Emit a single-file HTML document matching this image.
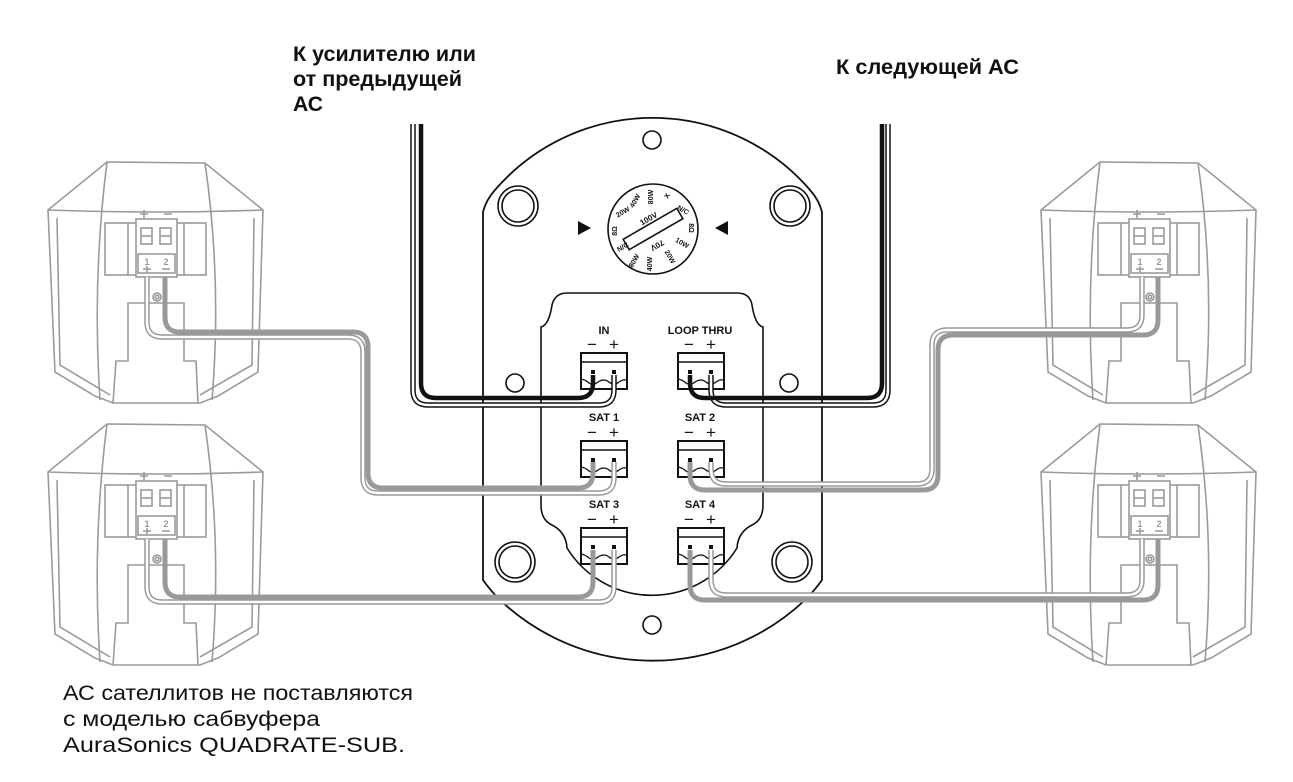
<!DOCTYPE html>
<html><head><meta charset="utf-8"><style>
html,body{margin:0;padding:0;background:#fff;}
svg{display:block;}
.sp{fill:none;stroke:#9a9a9a;stroke-width:1.6;}
.t{font-family:"Liberation Sans",sans-serif;fill:#111;}
.lbl{font-family:"Liberation Sans",sans-serif;font-weight:bold;font-size:11px;fill:#111;}
.dl{font-family:"Liberation Sans",sans-serif;font-weight:bold;font-size:7px;fill:#111;}
</style></head><body>
<svg width="1293" height="782" viewBox="0 0 1293 782" xmlns="http://www.w3.org/2000/svg">
<defs>
<g id="spk" class="sp">
  <path d="M107,162 L205,163 L263,210 L258,372 L218,396 L200,403 L113,403 L95,396 L55,372 L48,210 Z"/>
  <path d="M48,210 Q155,214 263,210"/>
  <path d="M57,218 L60,365 L110,395 M254,218 L252,365 L200,395"/>
  <path d="M107,162 Q92,280 100,400 M205,163 Q222,280 212,400"/>
  <rect x="105" y="223" width="101" height="52"/>
  <line x1="128" y1="223" x2="128" y2="275"/><line x1="184" y1="223" x2="184" y2="275"/>
  <rect x="136" y="219" width="41" height="58" fill="#fff"/>
  <rect x="141" y="228" width="11" height="16"/><line x1="141" y1="236" x2="152" y2="236"/>
  <rect x="160" y="228" width="11" height="16"/><line x1="160" y1="236" x2="171" y2="236"/>
  <rect x="138" y="254" width="37" height="19"/>
  <path d="M113,403 L116,361 L128,361 L128,303 L184,303 L184,361 L196,361 L198,403"/>
  <circle cx="157" cy="297" r="4"/><circle cx="157" cy="297" r="1.8"/>
  <path d="M140,214 L148,214 M144,210 L144,218 M164,214 L172,214"/>
</g>
<g id="spt">
  <text x="147" y="265" font-family="Liberation Sans,sans-serif" font-weight="bold" font-size="9" fill="#999" text-anchor="middle">1</text>
  <text x="166" y="265" font-family="Liberation Sans,sans-serif" font-weight="bold" font-size="9" fill="#999" text-anchor="middle">2</text>
  <path d="M143,269 L151,269 M147,266 L147,272 M162,269 L170,269" stroke="#999" stroke-width="1.5"/>
</g>
<g id="term">
  <rect x="0" y="0" width="46" height="36" fill="#fff" stroke="#111" stroke-width="2"/>
  <line x1="0" y1="9" x2="46" y2="9" stroke="#111" stroke-width="1.5"/>
  <rect x="10" y="17" width="4" height="4" fill="#111"/><rect x="31" y="17" width="4" height="4" fill="#111"/>
  <path d="M0,26 Q5,27 8,30 Q12,33 17,29 Q23,25 28,29 Q33,33 38,29 Q42,26 46,27" fill="none" stroke="#111" stroke-width="1.3"/>
</g>
</defs>

<!-- speakers -->
<use href="#spk"/><use href="#spt"/>
<g transform="translate(0,262)"><use href="#spk"/><use href="#spt"/></g>
<g transform="translate(993,0)"><use href="#spk"/><use href="#spt"/></g>
<g transform="translate(993,262)"><use href="#spk"/><use href="#spt"/></g>

<!-- plate -->
<path d="M483,580 L483,212 Q486,200 495,190 A208,208 0 0 1 810,190 Q819,200 822,212 L822,580 Q815,590 805,600 A222,222 0 0 1 500,600 Q490,590 483,580 Z" fill="#fff" stroke="#111" stroke-width="1.8"/>
<path d="M567,293 L737,293 Q750,293 752,305 Q755,325 763,327 L763,505 Q763,520 752,525 Q738,532 737,548 A100,100 0 0 1 567,548 Q566,532 552,525 Q541,520 541,505 L541,327 Q549,325 552,305 Q555,293 567,293 Z" fill="none" stroke="#111" stroke-width="1.6"/>
<g fill="none" stroke="#111" stroke-width="1.6">
<circle cx="518" cy="206" r="20"/><circle cx="518" cy="206" r="16"/>
<circle cx="790" cy="206" r="20"/><circle cx="790" cy="206" r="16"/>
<circle cx="515" cy="562" r="20"/><circle cx="515" cy="562" r="16"/>
<circle cx="792" cy="562" r="20"/><circle cx="792" cy="562" r="16"/>
<circle cx="652" cy="140" r="9"/><circle cx="652" cy="625" r="9"/>
<circle cx="515" cy="383" r="9"/><circle cx="789" cy="383" r="9"/>
<circle cx="653" cy="229" r="45"/>
<rect x="-31" y="-6" width="62" height="12" transform="translate(653,229) rotate(-30)"/>
</g>
<path d="M578,221 L591,228 L578,235 Z" fill="#111"/>
<path d="M728,221 L715,228 L728,235 Z" fill="#111"/>
<g class="dl" text-anchor="middle">
<text transform="translate(650,221) rotate(-30)" font-size="8">100V</text>
<text transform="translate(656,243) rotate(150)" font-size="8">70V</text>
<text transform="translate(669,197) rotate(-60)">X</text>
<text transform="translate(653,197) rotate(-90)">80W</text>
<text transform="translate(637,202) rotate(-60)">40W</text>
<text transform="translate(624,214) rotate(-30)">20W</text>
<text transform="translate(617,231) rotate(-90)">8Ω</text>
<text transform="translate(624,249) rotate(-30)">N/C</text>
<text transform="translate(636,262) rotate(-60)">80W</text>
<text transform="translate(652,264) rotate(-90)">40W</text>
<text transform="translate(668,258) rotate(60)">20W</text>
<text transform="translate(681,245) rotate(30)">10W</text>
<text transform="translate(689,228) rotate(90)">8Ω</text>
<text transform="translate(682,212) rotate(30)">N/C</text>
</g>

<!-- terminals -->
<use href="#term" x="581" y="353"/><use href="#term" x="678" y="353"/>
<use href="#term" x="581" y="441"/><use href="#term" x="678" y="441"/>
<use href="#term" x="581" y="528"/><use href="#term" x="678" y="528"/>
<g class="lbl" text-anchor="middle">
<text x="604" y="334">IN</text><text x="700" y="334">LOOP THRU</text>
<text x="604" y="421">SAT 1</text><text x="700" y="421">SAT 2</text>
<text x="604" y="508">SAT 3</text><text x="700" y="508">SAT 4</text>
</g>
<g font-family="Liberation Sans,sans-serif" font-size="17" fill="#111" text-anchor="middle">
<text x="592" y="350">−</text><text x="614" y="350">+</text><text x="689" y="350">−</text><text x="711" y="350">+</text>
<text x="592" y="438">−</text><text x="614" y="438">+</text><text x="689" y="438">−</text><text x="711" y="438">+</text>
<text x="592" y="525">−</text><text x="614" y="525">+</text><text x="689" y="525">−</text><text x="711" y="525">+</text>
</g>

<!-- wires -->
<g fill="none" stroke-linecap="butt">
<!-- gray (minus) -->
<g stroke="#999" stroke-width="5">
<path d="M165,277 L165,317 Q165,332 180,332 L353,332 Q368,332 368,347 L368,473 Q368,488 383,488 L578,488 Q593,488 593,473 L593,462"/>
<path d="M165,539 L165,582 Q165,597 180,597 L578,597 Q593,597 593,582 L593,550"/>
<path d="M1158,277 L1158,320 Q1158,335 1143,335 L953,335 Q938,335 938,350 L938,475 Q938,490 923,490 L705,490 Q690,490 690,475 L690,462"/>
<path d="M1158,539 L1158,585 Q1158,600 1143,600 L705,600 Q690,600 690,585 L690,550"/>
</g>
<!-- white (plus) -->
<g id="wp" stroke="#999" stroke-width="5.5">
<path d="M147,277 L147,322 Q147,337 162,337 L348,337 Q363,337 363,352 L363,478 Q363,493 378,493 L599,493 Q614,493 614,478 L614,462"/>
<path d="M147,539 L147,587 Q147,602 162,602 L599,602 Q614,602 614,587 L614,550"/>
<path d="M1142,277 L1142,315 Q1142,330 1127,330 L947,330 Q932,330 932,345 L932,469 Q932,484 917,484 L726,484 Q711,484 711,469 L711,462"/>
<path d="M1142,539 L1142,580 Q1142,595 1127,595 L726,595 Q711,595 711,580 L711,550"/>
</g>
<g stroke="#fff" stroke-width="2.5">
<path d="M147,277 L147,322 Q147,337 162,337 L348,337 Q363,337 363,352 L363,478 Q363,493 378,493 L599,493 Q614,493 614,478 L614,462"/>
<path d="M147,539 L147,587 Q147,602 162,602 L599,602 Q614,602 614,587 L614,550"/>
<path d="M1142,277 L1142,315 Q1142,330 1127,330 L947,330 Q932,330 932,345 L932,469 Q932,484 917,484 L726,484 Q711,484 711,469 L711,462"/>
<path d="M1142,539 L1142,580 Q1142,595 1127,595 L726,595 Q711,595 711,580 L711,550"/>
</g>
<!-- input/loop -->
<g stroke="#111" stroke-width="5.5">
<path d="M413,124 L413,390 Q413,405 428,405 L599,405 Q614,405 614,390 L614,375"/>
<path d="M888,124 L888,390 Q888,405 873,405 L726,405 Q711,405 711,390 L711,375"/>
</g>
<g stroke="#fff" stroke-width="2.5">
<path d="M413,124 L413,390 Q413,405 428,405 L599,405 Q614,405 614,390 L614,375"/>
<path d="M888,124 L888,390 Q888,405 873,405 L726,405 Q711,405 711,390 L711,375"/>
</g>
<g stroke="#111" stroke-width="4.5">
<path d="M421,124 L421,383 Q421,398 436,398 L578,398 Q593,398 593,383 L593,375"/>
<path d="M882,124 L882,383 Q882,398 867,398 L705,398 Q690,398 690,383 L690,375"/>
</g>
</g>

<!-- text -->
<g class="t" font-size="21" font-weight="bold" style="font-weight:600">
<text x="293" y="61" textLength="183" lengthAdjust="spacingAndGlyphs">К усилителю или</text>
<text x="293" y="86" textLength="169" lengthAdjust="spacingAndGlyphs">от предыдущей</text>
<text x="293" y="111" textLength="30" lengthAdjust="spacingAndGlyphs">АС</text>
<text x="836" y="74" textLength="183" lengthAdjust="spacingAndGlyphs">К следующей АС</text>
</g>
<g class="t" font-size="21">
<text x="63" y="700" textLength="350" lengthAdjust="spacingAndGlyphs">АС сателлитов не поставляются</text>
<text x="63" y="726" textLength="257" lengthAdjust="spacingAndGlyphs">с моделью сабвуфера</text>
<text x="63" y="752" textLength="342" lengthAdjust="spacingAndGlyphs">AuraSonics QUADRATE-SUB.</text>
</g>
</svg>
</body></html>
